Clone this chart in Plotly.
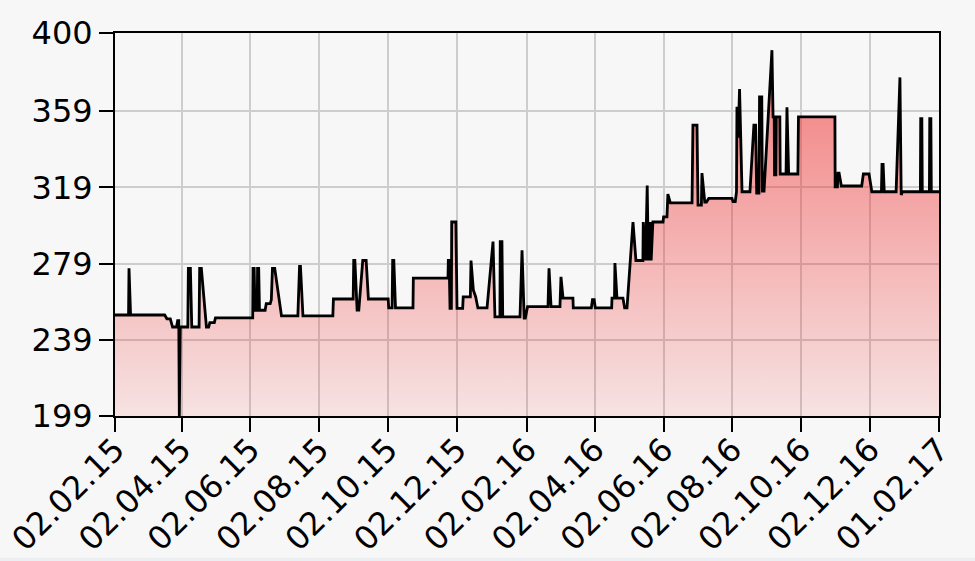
import pandas as pd
import plotly.graph_objects as go

# Price history (days after 02.02.2015, price)
start_date = "2015-02-02"
days = [
    0, 12, 12.4, 13.8, 44, 46, 49, 51, 54.5, 55.5, 56.5, 57, 57.8,
    64.5, 65, 66.8, 68, 74.5, 75, 76.5, 81, 83, 84, 88, 89,
    122, 122.3, 123.3, 124, 126, 126.3, 127.3, 128, 133, 134, 137.5, 138.5,
    139.5, 141.5, 147.5, 162, 163.5, 164.3, 166.5, 193, 193.5,
    211, 211.5, 212.5, 214.5, 216, 219.5, 222.5, 224.5, 242, 242.5, 245.5,
    246, 247, 248.5, 264, 264.3, 295, 295.3, 296, 296.8, 298, 298.3, 302,
    303, 308, 308.5, 314.8, 315.4, 317.5, 319.5, 321.5, 329.6, 334.9, 336.6,
    341, 341.3, 342.8, 343.5, 358.8, 360.6, 362.5, 363.5, 365.5, 383.6,
    384.5, 386.3, 394.2, 395.1, 396.9, 405.7, 406, 422, 423, 424.5, 425.5,
    440, 440.3, 442.5, 442.9, 444.7, 450, 451.5, 453.6, 458.9, 461.5, 467.7,
    468, 470, 471.5, 472.5, 474, 475, 476.5, 485.5, 486, 489, 489.8, 492,
    511.2, 512, 515.6, 516.5, 519.5, 520, 522.5, 524, 526, 546.6, 547.5,
    549.5, 550.6, 551, 552, 553.3, 555.5, 562.5, 566, 567.5, 568.5, 570.5,
    571, 573, 573.5, 575, 582, 583, 584, 584.3, 585.5, 585.8, 589, 589.3,
    594.5, 595.3, 596.8, 605, 605.5, 637.8, 638, 640, 640.5, 641.5, 643.5,
    661.5, 663, 668, 670.5, 679, 679.5, 680.5, 681.5, 692, 695.4, 696.5,
    697.5, 713.5, 713.8, 714.8, 715.2, 721.5, 721.8, 722.8, 723.2, 730,
]
prices = [
    252, 252, 276.5, 252, 252, 250, 250, 245.7, 245.7, 249, 249, 199, 245.7,
    245.7, 276.5, 276.5, 245.7, 245.7, 276.5, 276.5, 245.7, 245.7, 248, 248, 250.5,
    250.5, 276.5, 276.5, 254.5, 254.5, 276.5, 276.5, 254.5, 254.5, 258, 258, 260,
    276.5, 276.5, 251.5, 251.5, 277.5, 277.5, 251.5, 251.5, 260.4,
    260.4, 280.6, 280.6, 254.6, 254.6, 280.6, 280.6, 260.4, 260.4, 255.7, 255.7,
    280.6, 280.6, 255.7, 255.7, 271.4, 271.4, 280.6, 280.6, 255.5, 255.5, 300.8, 300.8,
    255.5, 255.5, 261.5, 261.5, 280.6, 265, 261.6, 255.7, 255.7, 290.5, 251,
    251, 290.5, 290.5, 251, 251, 286, 250.4, 250.4, 256.4, 256.4,
    276.5, 256.4, 256.4, 272, 260.9, 260.9, 255.7, 255.7, 260, 260, 255.7,
    255.7, 260.9, 260.9, 279.3, 260.9, 260.9, 255.7, 255.7, 300.8, 280.6, 280.6,
    300.8, 280.6, 320, 280.6, 300.8, 280.6, 300.8, 300.8, 303.5, 303.5, 315.5, 310.8,
    310.8, 351.7, 351.7, 309.7, 309.7, 326.5, 311.3, 311.3, 313.2, 313.2, 311.5,
    311.5, 316.7, 361.3, 345, 370.6, 316.7, 316.7, 351.7, 351.7, 316, 316,
    366.4, 366.4, 317, 317, 391, 356, 356, 325.5, 325.5, 356, 356, 326,
    326, 361, 326, 326, 356, 356, 319.2, 319.2, 326.5, 326.5, 319.7,
    319.7, 326, 326, 316.7, 316.7, 331, 331, 316.7, 316.7, 376.7, 315,
    316.7, 316.7, 355, 355, 316.7, 316.7, 355, 355, 316.7, 316.7,
]

tick_dates = [
    "2015-02-02", "2015-04-02", "2015-06-02", "2015-08-02", "2015-10-02",
    "2015-12-02", "2016-02-02", "2016-04-02", "2016-06-02", "2016-08-02",
    "2016-10-02", "2016-12-02", "2017-02-01",
]
tick_labels = [
    "02.02.15", "02.04.15", "02.06.15", "02.08.15", "02.10.15", "02.12.15",
    "02.02.16", "02.04.16", "02.06.16", "02.08.16", "02.10.16", "02.12.16",
    "01.02.17",
]
y_ticks = [199, 239, 279, 319, 359, 400]

start = pd.Timestamp(start_date)
x = [start + pd.Timedelta(days=d) for d in days]

fig = go.Figure(
    go.Scatter(
        x=x,
        y=prices,
        mode="lines",
        line=dict(color="black", width=2.8),
        fill="tozeroy",
        fillgradient=dict(
            type="vertical",
            start=199,
            stop=400,
            colorscale=[[0, "rgba(240,40,40,0.10)"], [1, "rgba(240,40,40,0.62)"]],
        ),
        hoverinfo="skip",
    )
)

font = dict(family="DejaVu Sans", size=32, color="black")
axis_common = dict(
    showline=True,
    linecolor="black",
    linewidth=2,
    mirror=True,
    ticks="outside",
    ticklen=14,
    tickwidth=2,
    tickcolor="black",
    showgrid=True,
    gridcolor="#cdcdcd",
    gridwidth=2,
    zeroline=False,
    tickfont=font,
    automargin=False,
)

fig.update_layout(
    width=975,
    height=561,
    margin=dict(l=115, r=36, t=33, b=145, pad=0),
    paper_bgcolor="#f7f7f7",
    plot_bgcolor="#f7f7f7",
    showlegend=False,
    xaxis=dict(
        type="date",
        range=[start_date, "2017-02-01"],
        tickmode="array",
        tickvals=tick_dates,
        ticktext=tick_labels,
        tickangle=-45,
        ticklabelstandoff=-14,
        **axis_common,
    ),
    yaxis=dict(
        range=[199, 400],
        tickmode="array",
        tickvals=y_ticks,
        ticktext=[str(v) for v in y_ticks],
        **axis_common,
    ),
    shapes=[
        dict(
            type="rect", xref="paper", yref="paper",
            x0=-0.15, x1=1.05, y0=-0.385, y1=-0.37,
            fillcolor="#eceff2", line=dict(width=0), layer="below",
        )
    ],
)

fig.write_html(
    "out.html",
    config={"displayModeBar": False},
    post_script="document.body.style.margin='0';document.body.style.background='#f7f7f7';",
)
